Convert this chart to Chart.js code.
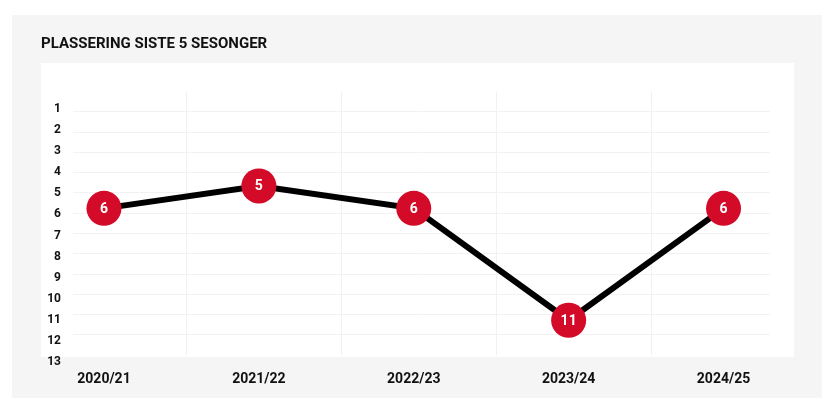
<!DOCTYPE html>
<html>
<head>
<meta charset="utf-8">
<script src="https://cdn.jsdelivr.net/npm/chart.js@4.4.1/dist/chart.umd.min.js"></script>
<style>
  html, body { margin: 0; padding: 0; background: #fff; }
</style>
</head>
<body>
<canvas id="chart" width="838" height="414"></canvas>
<script>
// Données
const seasons = ['2020/21', '2021/22', '2022/23', '2023/24', '2024/25'];
const placements = [6, 5, 6, 11, 6];
const rankTicks = [1, 2, 3, 4, 5, 6, 7, 8, 9, 10, 11, 12, 13];

const FONT = "'Roboto', 'DejaVu Sans Condensed', sans-serif";
const RED = '#d30b29';

// Fond gris + carte blanche
const panelPlugin = {
    id: 'panel',
    beforeDraw(chart) {
        const ctx = chart.ctx;
        ctx.save();
        ctx.fillStyle = '#f5f5f5';
        ctx.fillRect(12, 15, 810, 383);
        ctx.fillStyle = '#ffffff';
        ctx.fillRect(41, 63, 753, 294);
        ctx.restore();
    },
    beforeDatasetsDraw(chart) {
        // lignes verticales entre les saisons
        const ctx = chart.ctx;
        const x = chart.scales.x;
        const area = chart.chartArea;
        ctx.save();
        ctx.strokeStyle = '#f1f1f1';
        ctx.lineWidth = 1;
        for (let i = 0; i < seasons.length - 1; i++) {
            const px = Math.round(x.getPixelForValue(i + 0.53)) + 0.5;
            ctx.beginPath();
            ctx.moveTo(px, area.top);
            ctx.lineTo(px, area.bottom);
            ctx.stroke();
        }
        ctx.restore();
    }
};

// Chiffres dans les points
const pointLabels = {
    id: 'pointLabels',
    afterDatasetsDraw(chart) {
        const ctx = chart.ctx;
        const meta = chart.getDatasetMeta(0);
        ctx.save();
        ctx.fillStyle = '#fff';
        ctx.font = 'bold 14px ' + FONT;
        ctx.textAlign = 'center';
        ctx.textBaseline = 'middle';
        meta.data.forEach((pt, i) => {
            ctx.fillText(String(placements[i]), pt.x, pt.y + 1);
        });
        ctx.restore();
    }
};

new Chart(document.getElementById('chart'), {
    type: 'line',
    data: {
        datasets: [{
            data: placements.map((v, i) => ({ x: i, y: v })),
            yAxisID: 'yData',
            borderColor: '#000',
            borderWidth: 6,
            tension: 0,
            pointRadius: 17.5,
            pointHoverRadius: 17.5,
            pointBackgroundColor: RED,
            pointBorderWidth: 0,
            clip: false
        }]
    },
    options: {
        responsive: false,
        animation: false,
        layout: { padding: { left: 41, right: 68, top: 35, bottom: 10 } },
        plugins: {
            legend: { display: false },
            tooltip: { enabled: false },
            title: {
                display: true,
                text: 'PLASSERING SISTE 5 SESONGER',
                align: 'start',
                color: '#111',
                font: { family: FONT, size: 15, weight: 'bold' },
                padding: { top: 0, bottom: 38.5 }
            }
        },
        scales: {
            x: {
                type: 'linear',
                min: -0.2,
                max: 4.3,
                grid: { display: false, drawTicks: false },
                border: { display: false },
                ticks: {
                    stepSize: 1,
                    includeBounds: false,
                    padding: 16,
                    color: '#111',
                    font: { family: FONT, size: 14, weight: 'bold' },
                    callback: v => seasons[v] ?? ''
                }
            },
            // grille horizontale
            y: {
                min: 0,
                max: 13,
                reverse: true,
                afterFit(scale) { scale.width = 0; },
                grid: {
                    drawTicks: false,
                    color: c => (c.tick && (c.tick.value === 0 || c.tick.value === 13)) ? 'rgba(0,0,0,0)' : '#f2f2f2'
                },
                border: { display: false },
                ticks: { display: false, stepSize: 1 }
            },
            // étiquettes du classement
            yLab: {
                position: 'left',
                min: 0.18,
                max: 12.66,
                reverse: true,
                afterFit(scale) { scale.width = 32; },
                afterBuildTicks(scale) {
                    scale.ticks = rankTicks.map(v => ({ value: v }));
                },
                grid: { display: false, drawTicks: false },
                border: { display: false },
                ticks: {
                    padding: 12,
                    color: '#111',
                    font: { family: FONT, size: 12, weight: 'bold' }
                }
            },
            yData: {
                display: false,
                reverse: true,
                min: 0.78,
                max: 12.56
            }
        }
    },
    plugins: [panelPlugin, pointLabels]
});
</script>
</body>
</html>
